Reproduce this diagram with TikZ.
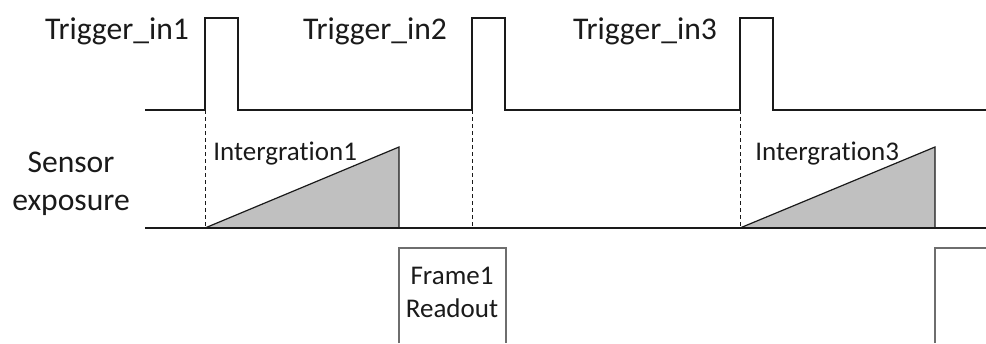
\documentclass[tikz,border=0pt]{standalone}
\usepackage{fontspec}
\setmainfont{Carlito}[Ligatures={NoCommon,NoContextual}]
\usepackage{xcolor}
\definecolor{Ink}{HTML}{1A1A1A}
\definecolor{Ramp}{HTML}{C0C0C0}
\definecolor{Edge}{HTML}{6E6E6E}
\tikzset{
  wave/.style={Ink,line width=0.6pt},
  marker/.style={Ink,line width=0.45pt,dash pattern=on 2pt off 1.5pt},
  biglabel/.style={font=\fontsize{15.8}{19}\selectfont,text=Ink,inner sep=0pt},
  smalllabel/.style={font=\fontsize{13.5}{16.5}\selectfont,text=Ink,inner sep=0pt}
}

\begin{document}
\begin{tikzpicture}[x=0.5pt,y=-0.5pt]
\useasboundingbox (0,0) rectangle (986,343);
% trigger input
\draw[wave] (145,110) -- (205,110) -- (205,18) -- (238,18) -- (238,110)
  -- (472,110) -- (472,18) -- (505,18) -- (505,110)
  -- (740,110) -- (740,18) -- (773,18) -- (773,110) -- (986,110);
\node[biglabel,anchor=base] (trig1) at (117,39) {Trigger\_in1};
\node[biglabel,anchor=base] (trig2) at (375,39) {Trigger\_in2};
\node[biglabel,anchor=base] (trig3) at (645,39) {Trigger\_in3};
% trigger edges
\draw[marker] (205,110) -- (205,228);
\draw[marker] (472,110) -- (472,228);
\draw[marker] (740,110) -- (740,228);
% sensor exposure
\node[biglabel,align=center] (sensor) at (71,184) {Sensor\\exposure};
\fill[Ramp] (205,228) -- (399,147) -- (399,228) -- cycle;
\fill[Ramp] (740,228) -- (935,147) -- (935,228) -- cycle;
\draw[wave] (205,228) -- (399,147) -- (399,228);
\draw[wave] (740,228) -- (935,147) -- (935,228);
\draw[wave] (145,228) -- (986,228);
\node[smalllabel,anchor=base west] (integ1) at (213,160) {Intergration1};
\node[smalllabel,anchor=base west] (integ3) at (755,160) {Intergration3};
% readout
\draw[Edge,line width=0.6pt] (399,343) -- (399,248) -- (506,248) -- (506,343);
\draw[Edge,line width=0.6pt] (935,343) -- (935,248) -- (986,248);
\node[smalllabel,align=center] (read1) at (452,292) {Frame1\\Readout};
\end{tikzpicture}
\end{document}
